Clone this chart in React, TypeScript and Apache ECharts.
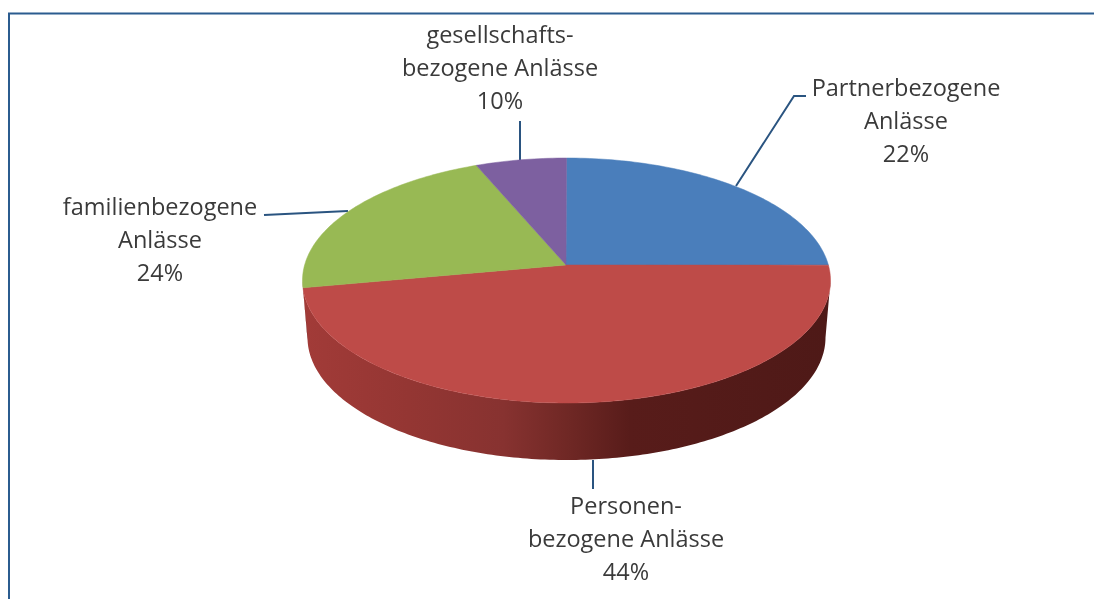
import React, { useEffect, useRef } from "react";
import * as echarts from "echarts";

// Category names, wrapped as in the picture
const categories = [
  "Partnerbezogene\nAnlässe",
  "Personen-\nbezogene Anlässe",
  "familienbezogene\nAnlässe",
  "gesellschafts-\nbezogene Anlässe",
];
// Percentages printed in the labels
const printedPercents = [22, 44, 24, 10];
// Shares of the rim as actually drawn in the picture (the drawing does not follow the printed numbers)
const drawnShares = [23.0, 51.05, 20.4, 5.55];
const sliceColors = ["#4a7ebb", "#be4b48", "#98b954", "#7d60a0"];

const W = 1094;
const H = 599;
const APEX = { x: 566, y: 265 };
const TOP = { cx: 566.5, cy: 280.5, rx: 264, ry: 122.5 };
const BOTTOM = { cx: 566.5, cy: 337.5, rx: 259, ry: 122.5 };

const labelAnchors = [
  { x: 906, y: 70 },
  { x: 626, y: 488 },
  { x: 160, y: 189 },
  { x: 500, y: 17 },
];
const leaders = [
  [[736, 186], [794, 96], [806, 96]],
  [[593, 460], [593, 489]],
  [[348, 211], [264, 215]],
  [[520, 160], [520, 121]],
];

const rimPoint = (e: typeof TOP, deg: number) => {
  const t = (deg * Math.PI) / 180;
  return [e.cx + e.rx * Math.sin(t), e.cy - e.ry * Math.cos(t)];
};
const arc = (e: typeof TOP, from: number, to: number) => {
  const n = Math.max(2, Math.ceil(Math.abs(to - from)));
  const pts: number[][] = [];
  for (let i = 0; i <= n; i++) pts.push(rimPoint(e, from + ((to - from) * i) / n));
  return pts;
};

const total = drawnShares.reduce((a, b) => a + b, 0);
const cumulative = drawnShares.reduce<number[]>((acc, v) => {
  acc.push((acc.length ? acc[acc.length - 1] : 0) + v);
  return acc;
}, []);

export default function App() {
  const ref = useRef<HTMLDivElement>(null);
  useEffect(() => {
    const chart = echarts.init(ref.current!, undefined, { renderer: "svg" });
    const wallGradient = new echarts.graphic.LinearGradient(0, 0, 1, 0, [
      { offset: 0, color: "#a23b38" },
      { offset: 0.2, color: "#943633" },
      { offset: 0.38, color: "#873230" },
      { offset: 0.5, color: "#702825" },
      { offset: 0.62, color: "#581c1a" },
      { offset: 1, color: "#4e1917" },
    ]);
    chart.setOption({
      animation: false,
      backgroundColor: "#ffffff",
      series: [
        {
          type: "custom",
          coordinateSystem: "none",
          silent: true,
          data: drawnShares.map((v, i) => ({ value: [v, i], name: categories[i] })),
          renderItem: (_params: any, api: any) => {
            const idx = api.value(1);
            const end = (cumulative[idx] / total) * 360;
            const start = end - (api.value(0) / total) * 360;
            const children: any[] = [];
            const wallFrom = Math.max(start, 90);
            const wallTo = Math.min(end, 270);
            if (wallTo > wallFrom) {
              children.push({
                type: "polygon",
                shape: {
                  points: [...arc(TOP, wallFrom, wallTo), ...arc(BOTTOM, wallTo, wallFrom)],
                },
                style: { fill: wallGradient },
              });
            }
            children.push({
              type: "polygon",
              shape: { points: [[APEX.x, APEX.y], ...arc(TOP, start, end)] },
              style: { fill: sliceColors[idx], stroke: sliceColors[idx], lineWidth: 0.5 },
            });
            return { type: "group", children };
          },
        },
      ],
      graphic: [
        {
          type: "polyline",
          silent: true,
          shape: { points: [[9, H], [9, 13.5], [W, 13.5]] },
          style: { fill: "none", stroke: "#2b5c8f", lineWidth: 2 },
        },
        ...leaders.map((points) => ({
          type: "polyline",
          silent: true,
          shape: { points },
          style: { fill: "none", stroke: "#2a5480", lineWidth: 2 },
        })),
        ...categories.map((name, i) => ({
          type: "text",
          silent: true,
          x: labelAnchors[i].x,
          y: labelAnchors[i].y,
          style: {
            text: `${name}\n${printedPercents[i]}%`,
            fill: "#3a3a3a",
            font: '23.5px "Open Sans"',
            lineHeight: 33,
            align: "center",
            verticalAlign: "top",
          },
        })),
      ],
    });
    return () => chart.dispose();
  }, []);
  return (
    <div
      ref={ref}
      style={{ position: "absolute", left: 0, top: 0, width: W, height: H, filter: "blur(0.5px)" }}
    />
  );
}
